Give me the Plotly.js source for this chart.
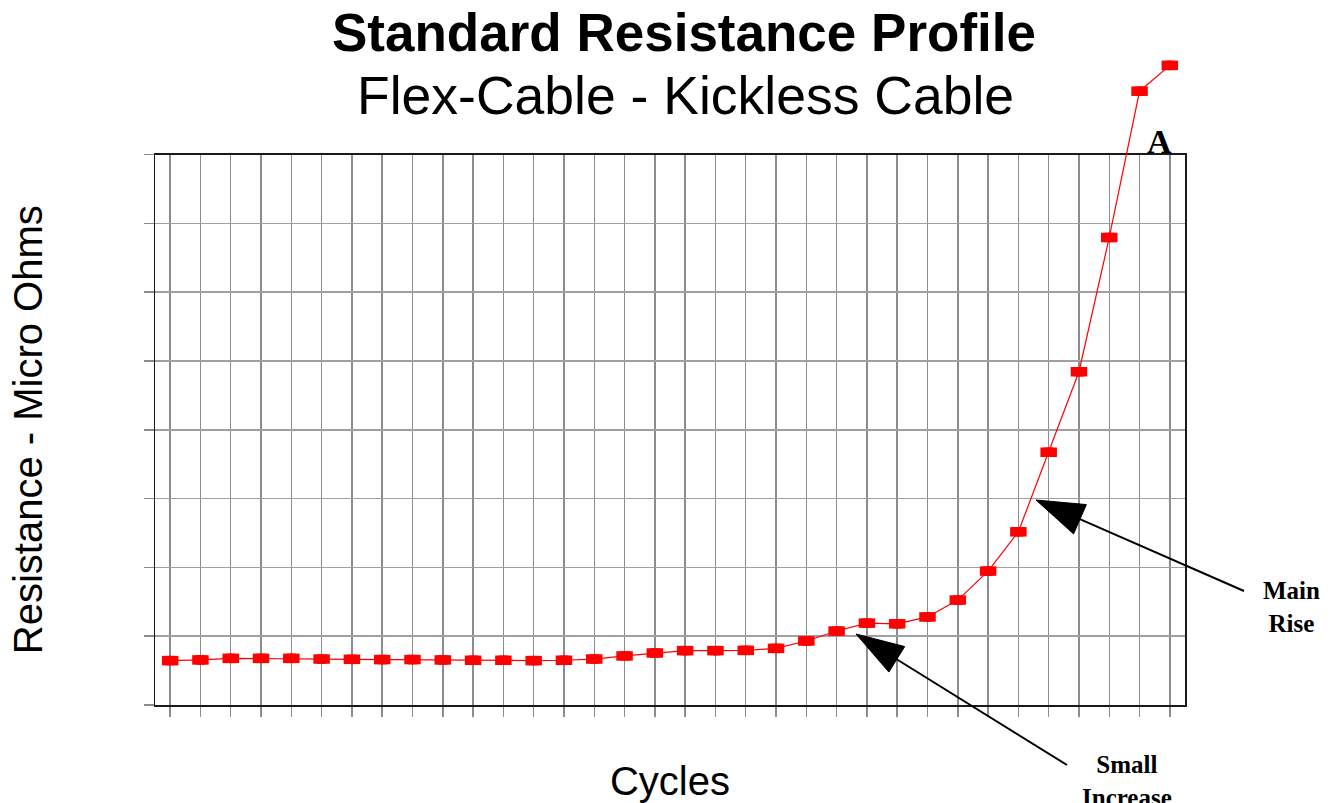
<!DOCTYPE html>
<html>
<head>
<meta charset="utf-8">
<script src="https://cdn.plot.ly/plotly-3.0.1.min.js"></script>
<style>html,body{margin:0;padding:0;background:#fff;}#chart{width:1335px;height:803px;}</style>
</head>
<body>
<div id="chart"></div>
<script>
// ---- data (y in grid units, no tick labels shown) ----
const cycles = [1,2,3,4,5,6,7,8,9,10,11,12,13,14,15,16,17,18,19,20,21,22,23,24,25,26,27,28,29,30,31,32,33,34];
const resistance = [0.645,0.655,0.678,0.678,0.678,0.668,0.664,0.66,0.66,0.655,0.65,0.65,0.645,0.65,0.668,
                    0.713,0.756,0.79,0.79,0.794,0.823,0.93,1.075,1.19,1.18,1.28,1.525,1.946,2.517,3.673,
                    4.843,6.794,8.92,9.295];
const yGridVals = [0,1,2,3,4,5,6,7,8];
const titleMain = 'Standard Resistance Profile';
const titleSub = 'Flex-Cable - Kickless Cable';
const xTitle = 'Cycles';
const yTitle = 'Resistance - Micro Ohms';

// ---- geometry ----
const W = 1335, H = 803;
const M = {l:155, r:150, t:10, b:98};
const plotW = W - M.l - M.r, plotH = H - M.t - M.b;
const yTopPx = 154.5;                       // top of framed plot area
const D = (H - M.b - yTopPx) / plotH;       // y domain top
const xr = [cycles[0]-0.5, cycles[cycles.length-1]+0.5];
const pxPerCat = plotW / (xr[1]-xr[0]);
const dShift = 3.5 / pxPerCat;              // builds the wide rectangular markers

const red = '#ff0000';
const traces = [
  // framed subplot (grid, ticks, frame, axis titles) – carries no visible marks
  {x: cycles, y: resistance, xaxis:'x', yaxis:'y', mode:'none', hoverinfo:'skip'},
  // the series, on an overlapping taller subplot so the line can leave the frame
  {x: cycles, y: resistance, xaxis:'x2', yaxis:'y2', mode:'lines',
   line:{color:red, width:1.2}, cliponaxis:false, hoverinfo:'skip'},
  {x: cycles, y: resistance, xaxis:'x3', yaxis:'y2', mode:'markers',
   marker:{symbol:'square', size:9.5, color:red}, cliponaxis:false},
  {x: cycles, y: resistance, xaxis:'x4', yaxis:'y2', mode:'markers',
   marker:{symbol:'square', size:9.5, color:red}, cliponaxis:false},
  {x: cycles, y: resistance, xaxis:'x2', yaxis:'y2', mode:'markers',
   marker:{symbol:'square', size:9.5, color:red}, cliponaxis:false}
];

// pixel -> paper helpers for the annotation arrows / texts
const px2x = px => (px - M.l) / plotW;
const px2y = py => (H - M.b - py) / plotH;

function arrowShapes(tip, tail, L, Wd) {
  const dx = tail[0]-tip[0], dy = tail[1]-tip[1];
  const len = Math.hypot(dx, dy), ux = dx/len, uy = dy/len;
  const bx = tip[0] + ux*L, by = tip[1] + uy*L;
  const nx = -uy, ny = ux;
  const p1 = [bx + nx*Wd/2, by + ny*Wd/2], p2 = [bx - nx*Wd/2, by - ny*Wd/2];
  const f = p => px2x(p[0]).toFixed(5) + ',' + px2y(p[1]).toFixed(5);
  return [
    {type:'line', xref:'paper', yref:'paper', x0:px2x(bx-ux*2), y0:px2y(by-uy*2), x1:px2x(tail[0]), y1:px2y(tail[1]),
     line:{color:'#000', width:2}},
    {type:'path', xref:'paper', yref:'paper', path:'M'+f(tip)+' L'+f(p1)+' L'+f(p2)+' Z',
     fillcolor:'#000', line:{color:'#000', width:1}}
  ];
}
const shapes = [].concat(
  arrowShapes([856, 634], [1067, 765], 48, 30),
  arrowShapes([1036, 500], [1244, 591], 48, 32)
);

const serif = 'Liberation Serif, Times New Roman, serif';
const sans = 'Liberation Sans, Arial, Helvetica, sans-serif';

const layout = {
  width: W, height: H,
  margin: {l:M.l, r:M.r, t:M.t, b:M.b, pad:0},
  paper_bgcolor: '#ffffff', plot_bgcolor: 'rgba(0,0,0,0)',
  showlegend: false,
  title: {
    text: '<b>' + titleMain + '</b>',
    font: {family: sans, size: 53, color: '#000'},
    xref: 'paper', x: px2x(684), xanchor: 'center',
    yref: 'container', y: 1 - 14/H, yanchor: 'top'
  },
  xaxis: {
    domain:[0,1], range: xr, anchor:'y',
    tickmode:'array', tickvals: cycles, showticklabels:false,
    ticks:'outside', ticklen:10, tickwidth:1.5, tickcolor:'#8c8c8c',
    showgrid:true, gridcolor:'#8c8c8c', gridwidth:1.5, zeroline:false,
    showline:true, linecolor:'#1a1a1a', linewidth:1.5, mirror:true,
    title:{text: xTitle, font:{family: sans, size:40, color:'#000'}, standoff: 54},
    fixedrange:true
  },
  yaxis: {
    domain:[0, D], range:[0, 8], anchor:'x',
    tickmode:'array', tickvals: yGridVals, showticklabels:false,
    ticks:'outside', ticklen:10, tickwidth:1.5, tickcolor:'#8c8c8c',
    showgrid:true, gridcolor:'#a0a0a0', gridwidth:1.5, zeroline:false,
    showline:true, linecolor:'#1a1a1a', linewidth:1.5, mirror:true,
    title:{text: yTitle, font:{family: sans, size:40, color:'#000'}, standoff: 88},
    fixedrange:true
  },
  xaxis2: {domain:[0,1], range: xr, anchor:'y2', visible:false, fixedrange:true},
  xaxis3: {domain:[0,1], range:[xr[0]+dShift, xr[1]+dShift], anchor:'y2', visible:false, fixedrange:true},
  xaxis4: {domain:[0,1], range:[xr[0]-dShift, xr[1]-dShift], anchor:'y2', visible:false, fixedrange:true},
  yaxis2: {domain:[0,1], range:[0, 8/D], anchor:'x2', visible:false, fixedrange:true},
  shapes: shapes,
  annotations: [
    {text: titleSub, xref:'paper', yref:'paper', x:px2x(685), y:px2y(95), xanchor:'center', yanchor:'middle',
     showarrow:false, font:{family:sans, size:53.5, color:'#000'}},
    {text:'<b>A</b>', xref:'paper', yref:'paper', x:px2x(1159.5), y:px2y(142), xanchor:'center', yanchor:'middle',
     showarrow:false, font:{family:serif, size:34, color:'#000'}},
    {text:'<b>Main</b><br><b>Rise</b>', xref:'paper', yref:'paper', x:px2x(1291), y:px2y(607), xanchor:'center', yanchor:'middle',
     showarrow:false, font:{family:serif, size:25, color:'#000'}},
    {text:'<b>Small</b><br><b>Increase</b>', xref:'paper', yref:'paper', x:px2x(1127), y:px2y(749), xanchor:'center', yanchor:'top',
     showarrow:false, font:{family:serif, size:25, color:'#000'}}
  ]
};

Plotly.newPlot('chart', traces, layout, {displayModeBar:false, staticPlot:true});
</script>
</body>
</html>
